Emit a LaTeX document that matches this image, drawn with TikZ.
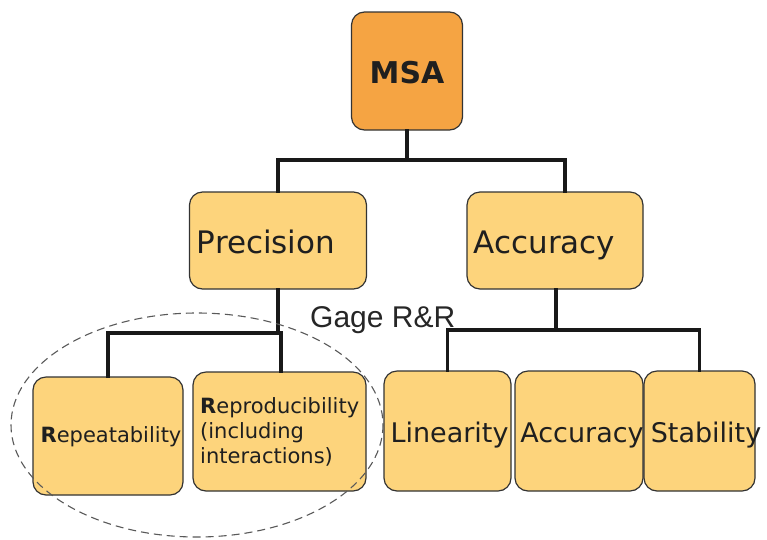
\documentclass[tikz,border=0pt]{standalone}
\usepackage{fontspec}
\setmainfont{DejaVu Sans}
\newfontfamily\gagefont{Liberation Sans}
\begin{document}
\begin{tikzpicture}[x=1pt,y=-1pt,
  box/.style={draw=black!80, line width=1.2pt, rounded corners=13pt,
    fill=boxfill, inner sep=0pt},
  topbox/.style={box, fill=topfill},
  conn/.style={draw=black!90, line width=3.8pt, line cap=rect},
  lbl/.style={inner sep=0pt, text=black!88, anchor=base},
  big/.style={font=\fontsize{31}{36}\selectfont},
  mid/.style={font=\fontsize{27}{32}\selectfont},
  small/.style={font=\fontsize{21}{25}\selectfont},
]
\definecolor{boxfill}{HTML}{FDD47C}
\definecolor{topfill}{HTML}{F5A443}
\useasboundingbox (0,0) rectangle (767,539);
\fill[white] (0,0) rectangle (767,539);

% boxes
\node[topbox, minimum width=111pt, minimum height=118pt] (msa)   at (407,71)     {};
\node[box, minimum width=177pt, minimum height=97pt]    (prec)  at (278,240.5)  {};
\node[box, minimum width=176pt, minimum height=97pt]    (acc)   at (555,240.5)  {};
\node[box, minimum width=150pt, minimum height=118pt]   (rep)   at (108,436)    {};
\node[box, minimum width=173pt, minimum height=119pt]   (repro) at (279.5,431.5) {};
\node[box, minimum width=127pt, minimum height=120pt]   (lin)   at (447.5,431)  {};
\node[box, minimum width=128pt, minimum height=120pt]   (acc2)  at (579,431)    {};
\node[box, minimum width=111pt, minimum height=120pt]   (stab)  at (699.5,431)  {};

% connectors
\coordinate (j1) at (407,160);
\coordinate (j2) at (278,333);
\coordinate (j3) at (556,330);
\draw[conn] (msa.south) -- (j1);
\draw[conn] (prec.north) |- (j1) -| ([xshift=10pt]acc.north);
\draw[conn] (prec.south) -- (j2) -| (rep.north);
\draw[conn] (j2) -| ([xshift=1.5pt]repro.north);
\draw[conn] ([xshift=1pt]acc.south) -- (j3) -| (lin.north);
\draw[conn] (j3) -| (stab.north);

% labels
\node[lbl, font=\fontsize{30}{36}\selectfont\bfseries] (msa-t) at (407,83) {MSA};
\node[lbl, big] (prec-t) at (266,253) {Precision};
\node[lbl, big] (acc-t)  at (544.5,253) {Accuracy};
\node[lbl, small] (rep-t) at (111,442) {\textbf{R}epeatability};
\node[small, inner sep=0pt, text=black!88, anchor=west, align=left] (repro-t) at (200,431.5)
  {\textbf{R}eproducibility\\(including\\interactions)};
\node[lbl, mid] (lin-t)  at (449.5,442) {Linearity};
\node[lbl, mid] (acc2-t) at (582,442) {Accuracy};
\node[lbl, mid] (stab-t) at (706,442) {Stability};
\node[inner sep=0pt, anchor=base west, text=black!85,
  font=\gagefont\fontsize{30}{36}\selectfont] (gage) at (310,327) {Gage R\&R};

% Gage R&R grouping
\draw[black!65, line width=1.1pt, dash pattern=on 8pt off 5pt]
  (197,425) ellipse [x radius=186, y radius=112];
\end{tikzpicture}
\end{document}
